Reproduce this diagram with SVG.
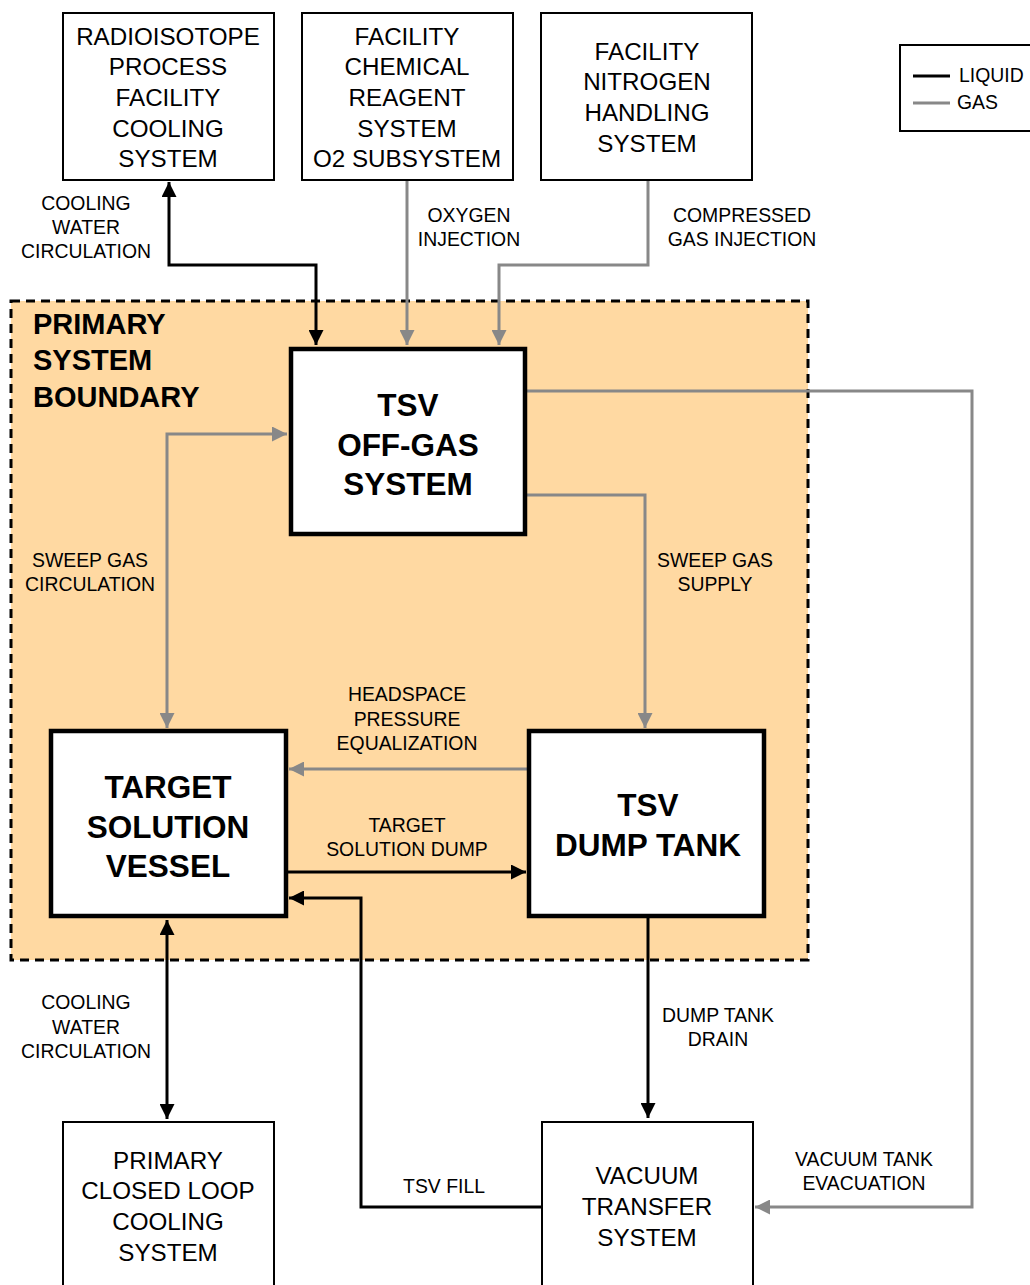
<svg xmlns="http://www.w3.org/2000/svg" width="1030" height="1285" viewBox="0 0 1030 1285">
<style>
  .sbox { fill:#fff; stroke:#000; stroke-width:2; }
  .bbox { fill:#fff; stroke:#000; stroke-width:4.5; }
  .stxt { font-family:"Liberation Sans", Arial, sans-serif; font-size:24.2px; text-anchor:middle; fill:#000; }
  .btxt { font-family:"Liberation Sans", Arial, sans-serif; font-size:31.5px; font-weight:bold; text-anchor:middle; fill:#000; }
  .lbl { font-family:"Liberation Sans", Arial, sans-serif; font-size:19.4px; text-anchor:middle; fill:#000; }
  .liq { fill:none; stroke:#000; stroke-width:3; }
  .gas { fill:none; stroke:#888; stroke-width:3; }
  .bnd { font-family:"Liberation Sans", Arial, sans-serif; font-size:29px; font-weight:bold; fill:#000; }
</style>
<defs>
  <marker id="ab" viewBox="0 0 10 10" refX="10" refY="5" markerUnits="userSpaceOnUse" markerWidth="15" markerHeight="15" orient="auto-start-reverse">
    <path d="M0,0 L10,5 L0,10 z" fill="#000"/>
  </marker>
  <marker id="ag" viewBox="0 0 10 10" refX="10" refY="5" markerUnits="userSpaceOnUse" markerWidth="15" markerHeight="15" orient="auto-start-reverse">
    <path d="M0,0 L10,5 L0,10 z" fill="#888"/>
  </marker>
</defs>
<rect width="1030" height="1285" fill="#fff"/>

<g id="boundary">
  <rect x="11" y="301" width="797" height="659" fill="#FFD9A2" stroke="#000" stroke-width="3" stroke-dasharray="9,6"/>
  <text class="bnd" x="33" y="334">PRIMARY</text>
  <text class="bnd" x="33" y="370">SYSTEM</text>
  <text class="bnd" x="33" y="407">BOUNDARY</text>
</g>

<g id="legend">
  <rect x="900" y="45" width="140" height="86" fill="#fff" stroke="#000" stroke-width="2"/>
  <line x1="913" y1="76" x2="950" y2="76" stroke="#000" stroke-width="3"/>
  <line x1="913" y1="103" x2="950" y2="103" stroke="#888" stroke-width="3"/>
  <text x="959" y="82" font-family="Liberation Sans, Arial, sans-serif" font-size="19.4">LIQUID</text>
  <text x="957" y="109" font-family="Liberation Sans, Arial, sans-serif" font-size="19.4">GAS</text>
</g>

<g id="connectors">
  <path class="liq" d="M169,182 V265 H316 V345" marker-start="url(#ab)" marker-end="url(#ab)"/>
  <path class="gas" d="M407,180 V345" marker-end="url(#ag)"/>
  <path class="gas" d="M648,180 V265 H499 V345" marker-end="url(#ag)"/>
  <path class="gas" d="M526,391 H972 V1207 H755" marker-end="url(#ag)"/>
  <path class="gas" d="M526,495 H645 V728" marker-end="url(#ag)"/>
  <path class="gas" d="M167,728 V434 H287" marker-start="url(#ag)" marker-end="url(#ag)"/>
  <path class="gas" d="M527,769 H289" marker-end="url(#ag)"/>
  <path class="liq" d="M288,872 H526" marker-end="url(#ab)"/>
  <path class="liq" d="M541,1207 H361 V898 H289" marker-end="url(#ab)"/>
  <path class="liq" d="M167,920 V1119" marker-start="url(#ab)" marker-end="url(#ab)"/>
  <path class="liq" d="M648,918 V1118" marker-end="url(#ab)"/>
  <text class="lbl" x="86" y="210">COOLING</text>
  <text class="lbl" x="86" y="234">WATER</text>
  <text class="lbl" x="86" y="258">CIRCULATION</text>
  <text class="lbl" x="469" y="222">OXYGEN</text>
  <text class="lbl" x="469" y="246">INJECTION</text>
  <text class="lbl" x="742" y="222">COMPRESSED</text>
  <text class="lbl" x="742" y="246">GAS INJECTION</text>
  <text class="lbl" x="90" y="567">SWEEP GAS</text>
  <text class="lbl" x="90" y="591">CIRCULATION</text>
  <text class="lbl" x="715" y="567">SWEEP GAS</text>
  <text class="lbl" x="715" y="591">SUPPLY</text>
  <text class="lbl" x="407" y="701">HEADSPACE</text>
  <text class="lbl" x="407" y="726">PRESSURE</text>
  <text class="lbl" x="407" y="750">EQUALIZATION</text>
  <text class="lbl" x="407" y="832">TARGET</text>
  <text class="lbl" x="407" y="856">SOLUTION DUMP</text>
  <text class="lbl" x="86" y="1009">COOLING</text>
  <text class="lbl" x="86" y="1034">WATER</text>
  <text class="lbl" x="86" y="1058">CIRCULATION</text>
  <text class="lbl" x="718" y="1022">DUMP TANK</text>
  <text class="lbl" x="718" y="1046">DRAIN</text>
  <text class="lbl" x="444" y="1193">TSV FILL</text>
  <text class="lbl" x="864" y="1166">VACUUM TANK</text>
  <text class="lbl" x="864" y="1190">EVACUATION</text>
</g>

<g id="radioisotope">
  <rect class="sbox" x="63" y="13" width="211" height="167"/>
  <text class="stxt" x="168" y="45">RADIOISOTOPE</text>
  <text class="stxt" x="168" y="75">PROCESS</text>
  <text class="stxt" x="168" y="106">FACILITY</text>
  <text class="stxt" x="168" y="137">COOLING</text>
  <text class="stxt" x="168" y="167">SYSTEM</text>
</g>
<g id="chemical">
  <rect class="sbox" x="302" y="13" width="211" height="167"/>
  <text class="stxt" x="407" y="45">FACILITY</text>
  <text class="stxt" x="407" y="75">CHEMICAL</text>
  <text class="stxt" x="407" y="106">REAGENT</text>
  <text class="stxt" x="407" y="137">SYSTEM</text>
  <text class="stxt" x="407" y="167">O2 SUBSYSTEM</text>
</g>
<g id="nitrogen">
  <rect class="sbox" x="541" y="13" width="211" height="167"/>
  <text class="stxt" x="647" y="60">FACILITY</text>
  <text class="stxt" x="647" y="90">NITROGEN</text>
  <text class="stxt" x="647" y="121">HANDLING</text>
  <text class="stxt" x="647" y="152">SYSTEM</text>
</g>
<g id="offgas">
  <rect class="bbox" x="291" y="349" width="234" height="185"/>
  <text class="btxt" x="408" y="416">TSV</text>
  <text class="btxt" x="408" y="456">OFF-GAS</text>
  <text class="btxt" x="408" y="495">SYSTEM</text>
</g>
<g id="tsv">
  <rect class="bbox" x="51" y="731" width="235" height="185"/>
  <text class="btxt" x="168" y="798">TARGET</text>
  <text class="btxt" x="168" y="838">SOLUTION</text>
  <text class="btxt" x="168" y="877">VESSEL</text>
</g>
<g id="dumptank">
  <rect class="bbox" x="529" y="731" width="235" height="185"/>
  <text class="btxt" x="648" y="816">TSV</text>
  <text class="btxt" x="648" y="856">DUMP TANK</text>
</g>
<g id="pclcs">
  <rect class="sbox" x="63" y="1122" width="211" height="175"/>
  <text class="stxt" x="168" y="1169">PRIMARY</text>
  <text class="stxt" x="168" y="1199">CLOSED LOOP</text>
  <text class="stxt" x="168" y="1230">COOLING</text>
  <text class="stxt" x="168" y="1261">SYSTEM</text>
</g>
<g id="vacuum">
  <rect class="sbox" x="542" y="1122" width="211" height="175"/>
  <text class="stxt" x="647" y="1184">VACUUM</text>
  <text class="stxt" x="647" y="1215">TRANSFER</text>
  <text class="stxt" x="647" y="1246">SYSTEM</text>
</g>
</svg>
